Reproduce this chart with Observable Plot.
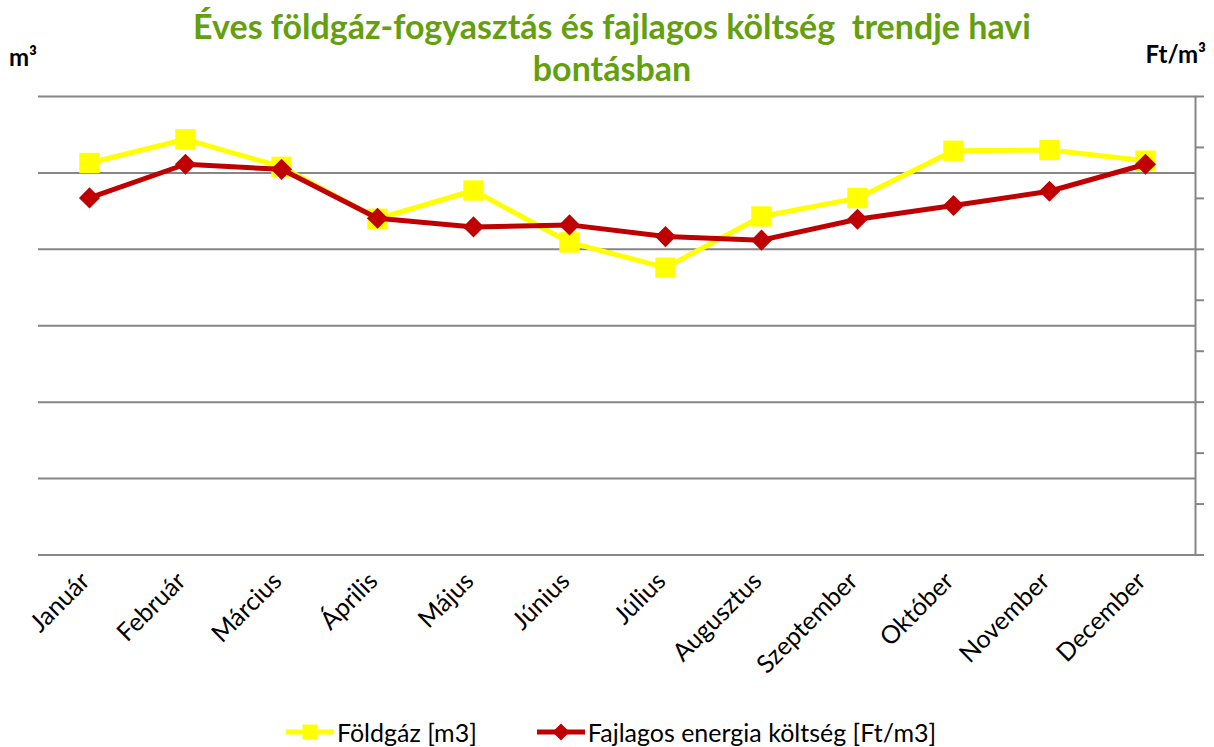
<!DOCTYPE html>
<html>
<head>
<meta charset="utf-8">
<script src="https://cdn.jsdelivr.net/npm/d3@7"></script>
<script src="https://cdn.jsdelivr.net/npm/@observablehq/plot@0.6"></script>
<style>
  html, body { margin: 0; padding: 0; background: #fff; }
  #wrap { position: relative; width: 1214px; height: 747px; overflow: hidden; font-family: Lato, "Open Sans", sans-serif; }
  #title { position: absolute; top: 5px; left: 5px; width: 1214px; text-align: center; font-weight: bold; font-size: 34px; line-height: 42px; color: #64A00E; }
  .unit { position: absolute; font-weight: bold; font-size: 24px; color: #000; }
  #chart { position: absolute; left: 0; top: 0; }
  #legend { position: absolute; top: 717px; left: 4px; width: 1214px; display: flex; justify-content: center; align-items: center; font-size: 25px; color: #000; }
  .item { display: flex; align-items: center; margin: 0 30px; }
  .item svg { margin-right: 3px; }
</style>
</head>
<body>
<div id="wrap">
  <div id="chart"></div>
  <div id="title">Éves földgáz-fogyasztás és fajlagos költség&nbsp; trendje havi<br>bontásban</div>
  <div class="unit" style="left:9px; top:42px;">m³</div>
  <div class="unit" style="right:8px; top:39px;">Ft/m³</div>
  <div id="legend"></div>
</div>
<script>
const months = ["Január","Február","Március","Április","Május","Június","Július","Augusztus","Szeptember","Október","November","December"];
const gas  = [5.13, 5.44, 5.08, 4.40, 4.77, 4.09, 3.76, 4.43, 4.67, 5.29, 5.30, 5.16];   // left axis units (m³)
const cost = [7.01, 7.67, 7.57, 6.61, 6.44, 6.48, 6.25, 6.18, 6.59, 6.86, 7.14, 7.67];   // right axis units (Ft/m³)
const leftTicks = [0, 1, 2, 3, 4, 5, 6];
const rightTicks = [0, 1, 2, 3, 4, 5, 6, 7, 8, 9];
const seriesNames = ["Földgáz [m3]", "Fajlagos energia költség [Ft/m3]"];
const colors = ["#FFFF00", "#C00000"];

const leftMax = d3.max(leftTicks), rightMax = d3.max(rightTicks);
const toLeft = d3.scaleLinear([0, rightMax], [0, leftMax]);

const gasData = months.map((m, i) => ({month: m, v: gas[i]}));
const costData = months.map((m, i) => ({month: m, v: toLeft(cost[i])}));

const chart = Plot.plot({
  width: 1214,
  height: 747,
  marginTop: 96,
  marginBottom: 192.5,
  marginLeft: 38,
  marginRight: 19,
  style: {fontFamily: "Lato, 'Open Sans', sans-serif", background: "transparent"},
  x: {type: "point", domain: months, padding: 0.5, axis: null},
  y: {domain: [0, leftMax], axis: null},
  marks: [
    Plot.ruleY(leftTicks, {stroke: "#868686", strokeWidth: 2}),
    Plot.frame({anchor: "right", stroke: "#868686", strokeWidth: 2}),
    Plot.axisY(rightTicks.map(toLeft), {anchor: "right", label: null, tickSize: 8, tickFormat: () => "", stroke: "#868686", strokeWidth: 2}),
    Plot.axisX({label: null, tickRotate: -45, tickSize: 0, tickPadding: 22, fontSize: 25, fill: "#000", dx: -4}),
    Plot.line(gasData, {x: "month", y: "v", stroke: colors[0], strokeWidth: 5}),
    Plot.dot(gasData, {x: "month", y: "v", symbol: "square", r: 11.5, fill: colors[0], stroke: null}),
    Plot.line(costData, {x: "month", y: "v", stroke: colors[1], strokeWidth: 5}),
    Plot.dot(costData, {x: "month", y: "v", symbol: "diamond2", r: 9.5, fill: colors[1], stroke: null})
  ]
});
document.getElementById("chart").appendChild(chart);

// legend
const legend = d3.select("#legend");
const sw = [
  g => g.append("rect").attr("x", 16.5).attr("y", 4.5).attr("width", 15).attr("height", 15).attr("fill", colors[0]),
  g => g.append("path").attr("d", "M24,3.5L32.5,12L24,20.5L15.5,12Z").attr("fill", colors[1])
];
seriesNames.forEach((name, i) => {
  const item = legend.append("div").attr("class", "item");
  const s = item.append("svg").attr("width", 48).attr("height", 24);
  s.append("line").attr("x1", 0).attr("x2", 48).attr("y1", 12).attr("y2", 12).attr("stroke", colors[i]).attr("stroke-width", 5);
  sw[i](s);
  item.append("span").text(name);
});
</script>
</body>
</html>
